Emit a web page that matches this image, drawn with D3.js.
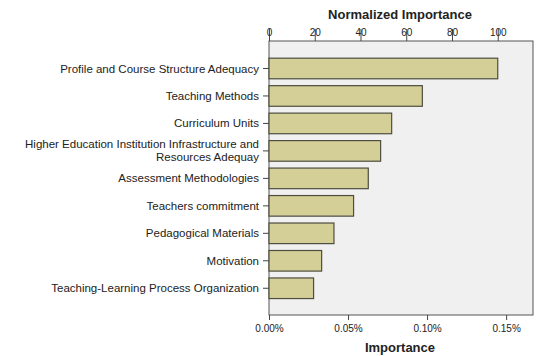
<!DOCTYPE html>
<html>
<head>
<meta charset="utf-8">
<script src="https://cdn.jsdelivr.net/npm/d3@7"></script>
<style>
  body { margin: 0; background: #fff; }
  svg text { font-family: "Liberation Sans", Arial, sans-serif; fill: #222; }
</style>
</head>
<body>
<div id="chart"></div>
<script>
// predictors (top to bottom)
var predictors = [
    "Profile and Course Structure Adequacy",
    "Teaching Methods",
    "Curriculum Units",
    "Higher Education Institution Infrastructure and|Resources Adequay",
    "Assessment Methodologies",
    "Teachers commitment",
    "Pedagogical Materials",
    "Motivation",
    "Teaching-Learning Process Organization"
];

// importance, in percent
var importance = [0.1447, 0.0970, 0.0776, 0.0706, 0.0628, 0.0535, 0.0411, 0.0333, 0.0282];

// axis ticks
var bottomTicks = [0, 0.05, 0.10, 0.15];
var topTicks = [0, 20, 40, 60, 80, 100];

var W = 540, H = 356;
var box = {left: 269, right: 533, top: 41, bottom: 315};

var svg = d3.select("#chart")
    .append("svg")
    .attr("width", W)
    .attr("height", H);

var maxImp = d3.max(importance);

// scales
var xScale = d3.scaleLinear()
    .domain([0, 0.167])
    .range([box.left, box.right]);

var xNorm = d3.scaleLinear()
    .domain([0, 100 * 0.167 / maxImp])
    .range([box.left, box.right]);

var yScale = d3.scaleBand()
    .domain(predictors)
    .range([54.75, 302])
    .paddingInner(0.25)
    .paddingOuter(0.125);

// plot background
svg.append("rect")
    .attr("x", box.left)
    .attr("y", box.top)
    .attr("width", box.right - box.left)
    .attr("height", box.bottom - box.top)
    .attr("fill", "#f0f0f0")
    .attr("stroke", "#555")
    .attr("stroke-width", 1);

// bars
svg.selectAll(".bar")
    .data(predictors)
    .enter()
    .append("rect")
    .attr("class", "bar")
    .attr("x", xScale(0))
    .attr("y", function(d) { return yScale(d); })
    .attr("width", function(d, i) { return xScale(importance[i]) - xScale(0); })
    .attr("height", yScale.bandwidth())
    .attr("fill", "#d4cf97")
    .attr("stroke", "#4d4d40")
    .attr("stroke-width", 1.2);

// bottom axis
var bottomAxis = svg.append("g")
    .attr("transform", "translate(0," + box.bottom + ")")
    .call(d3.axisBottom(xScale)
        .tickValues(bottomTicks)
        .tickSize(5)
        .tickPadding(5)
        .tickFormat(function(d) { return d.toFixed(2) + "%"; }));
bottomAxis.select(".domain").remove();
bottomAxis.selectAll("line").attr("stroke", "#444");
bottomAxis.selectAll("text").attr("font-size", 10).style("font-family", "Liberation Sans, Arial, sans-serif").attr("fill", "#222");

// top axis
var topAxis = svg.append("g")
    .attr("transform", "translate(0," + box.top + ")")
    .call(d3.axisTop(xNorm)
        .tickValues(topTicks)
        .tickSize(12)
        .tickPadding(-7));
topAxis.select(".domain").remove();
topAxis.selectAll("line").attr("stroke", "#444");
topAxis.selectAll("text").attr("font-size", 10).style("font-family", "Liberation Sans, Arial, sans-serif").attr("fill", "#222");

// left axis
var leftAxis = svg.append("g")
    .attr("transform", "translate(" + box.left + ",0)")
    .call(d3.axisLeft(yScale)
        .tickSize(6)
        .tickPadding(4)
        .tickFormat(""));
leftAxis.select(".domain").remove();
leftAxis.selectAll("line").attr("stroke", "#444");

leftAxis.selectAll(".tick")
    .append("text")
    .attr("x", -10)
    .attr("text-anchor", "end")
    .attr("font-size", 11.5)
    .style("font-family", "Liberation Sans, Arial, sans-serif")
    .attr("fill", "#222")
    .each(function(d) {
        var parts = d.split("|");
        var t = d3.select(this);
        parts.forEach(function(p, j) {
            t.append("tspan")
                .attr("x", -10)
                .attr("dy", j === 0 ? (parts.length > 1 ? "-0.25em" : "0.35em") : "1.1em")
                .text(p);
        });
    });

// titles
svg.append("text")
    .attr("x", 400)
    .attr("y", 19)
    .attr("text-anchor", "middle")
    .attr("font-size", 13)
    .attr("font-weight", "bold")
    .text("Normalized Importance");

svg.append("text")
    .attr("x", 400)
    .attr("y", 352)
    .attr("text-anchor", "middle")
    .attr("font-size", 13)
    .attr("font-weight", "bold")
    .text("Importance");
</script>
</body>
</html>
